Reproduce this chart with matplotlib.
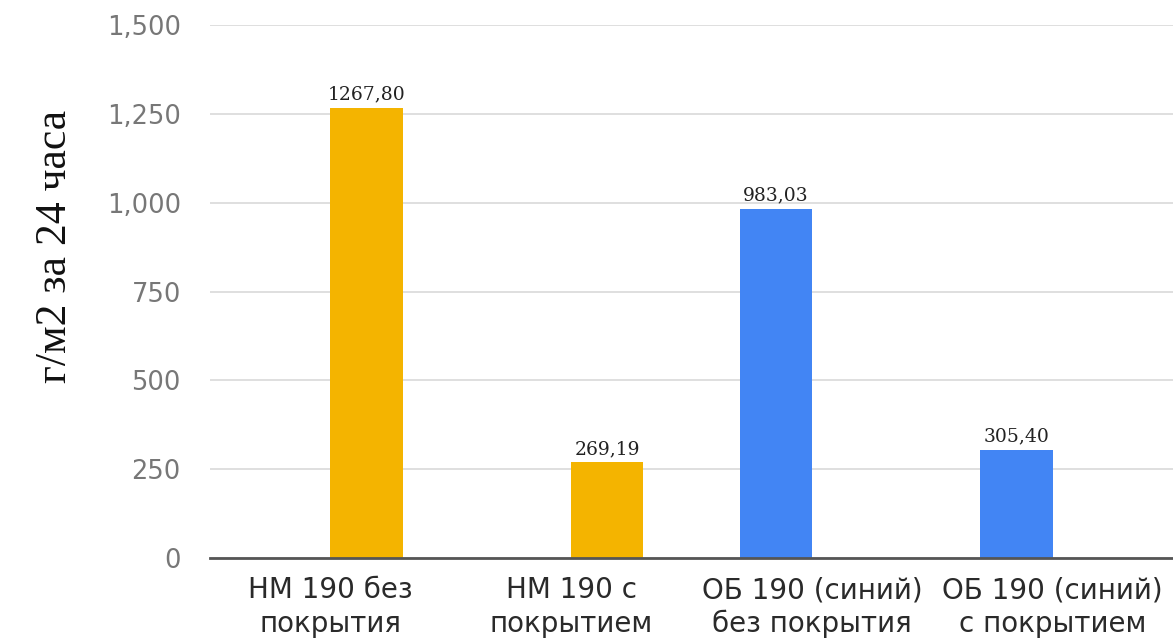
import matplotlib.pyplot as plt
import numpy as np

# ---------- Data ----------
categories = ["НМ 190 без\nпокрытия", "НМ 190 с\nпокрытием",
              "ОБ 190 (синий)\nбез покрытия", "ОБ 190 (синий)\nс покрытием"]
blue_vals = [0, 0, 983.03, 305.40]
yellow_vals = [1267.80, 269.19, 0, 0]
yticks = [0, 250, 500, 750, 1000, 1250, 1500]

BLUE = "#4285F4"
YELLOW = "#F4B400"

fig = plt.figure(figsize=(11.73, 6.43), dpi=100)
ax = fig.add_axes([0.179, 0.132, 0.821, 0.829])

x = np.arange(len(categories))
w = 0.3
b1 = ax.bar(x - w / 2, blue_vals, w, color=BLUE, zorder=3)
b2 = ax.bar(x + w / 2, yellow_vals, w, color=YELLOW, zorder=3)

# value labels, comma as decimal separator, skip empty bars
for bars in (b1, b2):
    for rect in bars:
        h = rect.get_height()
        if h <= 0:
            continue
        ax.text(rect.get_x() + rect.get_width() / 2, h + 12,
                f"{h:.2f}".replace(".", ","), ha="center", va="bottom",
                fontsize=13.5, family="DejaVu Serif", color="#222222", zorder=4)

ax.set_xlim(-0.5, 3.5)
ax.set_ylim(0, 1500)
ax.set_yticks(yticks)
ax.set_yticklabels([f"{v:,}" for v in yticks], fontsize=18.5, color="#777777")
ax.set_xticks(x)
ax.set_xticklabels(categories, fontsize=20, color="#2a2a2a", linespacing=1.25)

ax.grid(axis="y", color="#d9d9d9", linewidth=1.2, zorder=0)
ax.set_axisbelow(True)
for s in ("top", "right", "left"):
    ax.spines[s].set_visible(False)
ax.spines["bottom"].set_color("#555555")
ax.spines["bottom"].set_linewidth(2)
ax.spines["bottom"].set_zorder(5)
ax.tick_params(axis="y", length=0, pad=21)
ax.tick_params(axis="x", length=0, pad=13)

fig.text(0.047, 0.617, "г/м2 за 24 часа", rotation=90, ha="center", va="center",
         fontsize=31.5, family="Liberation Serif", color="#111111")

fig.savefig("out.png", dpi=100)
